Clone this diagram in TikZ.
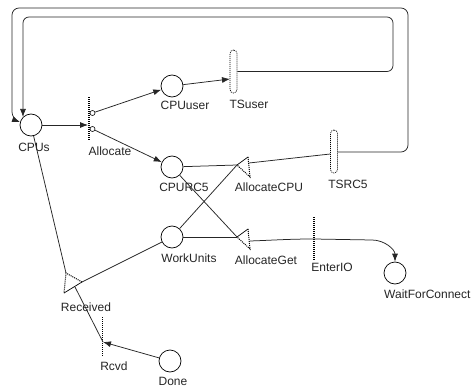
\documentclass[tikz,border=0pt]{standalone}
\usepackage{fontspec}
\setmainfont{Liberation Sans}
\usetikzlibrary{arrows.meta}
\begin{document}
\begin{tikzpicture}[x=1pt,y=-1pt,
  place/.style={circle, draw=black, minimum size=22pt, inner sep=0pt, line width=0.7pt},
  lbl/.style={font=\fontsize{12}{14}\selectfont, inner sep=0pt, text=black!85},
  arc/.style={draw=black!85, line width=0.75pt},
  tip/.style={-{Latex[length=8pt,width=6pt]}},
  bar/.style={draw=black, line width=1.1pt, dash pattern=on 1pt off 1pt},
  tsbox/.style={draw=black, line width=0.7pt, dash pattern=on 1pt off 1pt, rounded corners=3.5pt,
                minimum width=7pt, minimum height=43pt, inner sep=0pt},
  probe/.style={circle, draw=black, line width=0.6pt, minimum size=5pt, inner sep=0pt, fill=white},
  solidedge/.style={draw=black, line width=0.7pt},
  dotedge/.style={draw=black, line width=1pt, dash pattern=on 1pt off 1pt}]

\fill[white] (0,0) rectangle (472,388);
\useasboundingbox (0,0) rectangle (472,388);

% places
\node[place] (cpus)    at (31,125)  {};
\node[place] (cpuuser) at (172,86)  {};
\node[place] (cpurc5)  at (172,167) {};
\node[place] (work)    at (172,237) {};
\node[place] (done)    at (170,361) {};
\node[place] (wait)    at (395,273) {};

% timed transitions (rounded bars)
\node[tsbox] (tsu) at (233.5,71.5)  {};
\node[tsbox] (tsr) at (334,151.5)   {};

% Allocate bar with its two probes
\coordinate (alT) at (89,97);
\coordinate (alB) at (89,140);
\coordinate (alIn) at (88,125);
\node[probe] (alU) at (92.5,113) {};
\node[probe] (alR) at (92.5,129) {};

% EnterIO and Rcvd bars
\coordinate (eiT) at (314,217);
\coordinate (eiB) at (314,260);
\coordinate (eiM) at (314,239);
\coordinate (rdT) at (102.5,317);
\coordinate (rdB) at (102.5,357);
\coordinate (rdIn) at (103,342);

% triangle transitions
\coordinate (acV) at (237,165); \coordinate (acT) at (248,157); \coordinate (acB) at (250,177);
\coordinate (acR) at (249,163);
\coordinate (agV) at (237,237); \coordinate (agT) at (248,229); \coordinate (agB) at (250,249);
\coordinate (agR) at (250,241);
\coordinate (rcV) at (82,282);  \coordinate (rcT) at (66,273);  \coordinate (rcB) at (64,293);
\coordinate (rcE) at (75,287);

\coordinate (tsuIn) at (230,79);

% bars
\draw[bar] (alT) -- (alB);
\draw[bar] (eiT) -- (eiB);
\draw[bar] (rdT) -- (rdB);

% triangles
\draw[solidedge] (acV) -- (acT);
\draw[dotedge] (acT) -- (acB) -- (acV);
\draw[solidedge] (agV) -- (agT);
\draw[dotedge] (agT) -- (agB) -- (agV);
\draw[solidedge] (rcB) -- (rcV);
\draw[dotedge] (rcV) -- (rcT) -- (rcB);

% connectors
\draw[arc,tip] (cpus) -- (alIn);
\draw[arc,tip] (alU) -- (cpuuser);
\draw[arc,tip] (alR) -- (cpurc5);
\draw[arc,tip] (cpuuser) -- (tsuIn);
\draw[arc,tip,rounded corners=6pt] (tsu.east |- 0,71.5) -- (393,71.5) -- (393,17) -- (23,17) -- (cpus.135);
\draw[arc,tip,rounded corners=7pt] (tsr.east |- 0,152) -- (408,152) -- (408,8) -- (12,8) -- (12,119) -- (cpus.165);
\draw[arc] (acR) -- (tsr.west |- 0,154);
\draw[arc] (cpurc5) -- (acV);
\draw[arc] (work) -- (acV);
\draw[arc] (cpurc5) -- (agV);
\draw[arc] (work) -- (agV);
\draw[arc,tip] (agR) to[out=2,in=180] (eiM) -- (372,240) to[out=0,in=90] (wait.north);
\draw[arc] (cpus) -- (rcT);
\draw[arc] (work) -- (rcV);
\draw[arc] (rcE) -- (rdIn);
\draw[arc,tip] (done) -- (rdIn);

% labels
\node[lbl] (cpusL)    at (34,147)  {CPUs};
\node[lbl] (alL)      at (110,151) {Allocate};
\node[lbl] (cpuuserL) at (185,105) {CPUuser};
\node[lbl] (cpurc5L)  at (184,187) {CPURC5};
\node[lbl] (tsuL)     at (249,104) {TSuser};
\node[lbl] (acL)      at (269,187) {AllocateCPU};
\node[lbl] (tsrL)     at (348,184) {TSRC5};
\node[lbl] (workL)    at (189,258) {WorkUnits};
\node[lbl] (agL)      at (266,260) {AllocateGet};
\node[lbl] (eiL)      at (332,267) {EnterIO};
\node[lbl,anchor=west] (waitL) at (384,294) {WaitForConnect};
\node[lbl] (rcL)      at (86,307)  {Received};
\node[lbl] (rdL)      at (114,366) {Rcvd};
\node[lbl] (doneL)    at (173,381) {Done};
\end{tikzpicture}
\end{document}
